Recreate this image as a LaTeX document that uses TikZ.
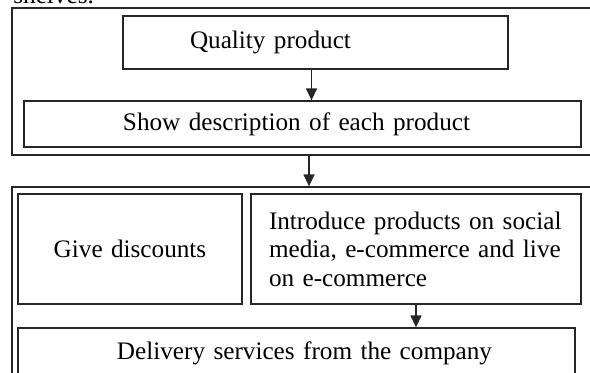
\documentclass[tikz,border=0pt]{standalone}
\usepackage{fontspec}
\setmainfont{Liberation Serif}
\usetikzlibrary{arrows.meta}

\begin{document}
\begin{tikzpicture}[x=0.5pt, y=-0.5pt,
    every node/.style={font=\fontsize{12.6}{14.2}\selectfont},
    frame/.style={draw=black!85, line width=0.65pt, inner sep=0pt},
    box/.style={draw=black!85, line width=0.65pt, inner ysep=0pt, align=left},
    arr/.style={draw=black!85, line width=0.65pt, -{Triangle[length=6pt, width=5.5pt]}}]
    \useasboundingbox (0,0) rectangle (590,372);
    \clip (0,0) rectangle (590,372);

    \node[anchor=base west, inner sep=0pt] (shelves) at (13,3.5) {shelves.};

    % two outer frames
    \node[frame, minimum width=304pt, minimum height=73.5pt] (upper) at (316,81.5) {};
    \node[frame, minimum width=304pt, minimum height=101.5pt] (lower) at (316,288.5) {};

    % boxes
    \node[box, inner xsep=0pt, text width=192.5pt, minimum height=26.5pt] (quality) at (315.5,42.5)
      {\hspace*{33.5pt}Quality product};
    \node[box, inner xsep=0pt, text width=278.5pt, minimum height=23pt] (show) at (302.5,124)
      {\hspace*{49.5pt}Show description of each product};
    \node[box, inner xsep=0pt, text width=112pt, align=center, minimum height=55pt] (discount) at (130,249)
      {Give discounts};
    \node[box, inner xsep=9pt, text width=147pt, minimum height=55pt] (intro) at (416,249)
      {Introduce products on social\\ media, e-commerce and live\\ on e-commerce};
    \node[box, inner xsep=0pt, text width=278.5pt, minimum height=25pt] (delivery) at (296.5,353)
      {\hspace*{49.5pt}Delivery services from the company};

    % arrows
    \coordinate (gap) at (309,0);
    \draw[arr] ([xshift=-2pt]quality.south) -- ([xshift=-2pt]quality.south |- show.north);
    \draw[arr] (upper.south -| gap) -- (lower.north -| gap);
    \draw[arr] (intro.south) -- (intro.south |- delivery.north);
\end{tikzpicture}
\end{document}
